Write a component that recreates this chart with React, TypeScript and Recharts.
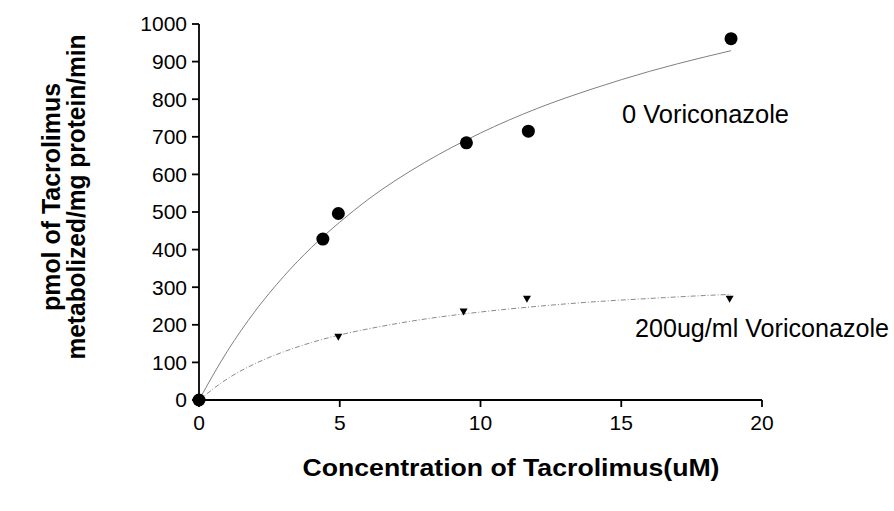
import React from 'react';
import {
  ComposedChart,
  Line,
  Scatter,
  XAxis,
  YAxis
} from 'recharts';

const concNoVori = [0, 4.4, 4.95, 9.5, 11.7, 18.9];
const rateNoVori = [0, 428, 496, 684, 715, 961];

const concVori200 = [0, 0, 4.95, 9.4, 11.65, 18.85];
const rateVori200 = [0, 0, 167, 234, 268, 268];

// fitted curves, sampled off the figure
const fitConc = [0, 1, 2, 3, 4, 5, 6, 8, 10, 12, 14, 16, 18, 18.9];
const fitNoVori = [0, 129, 237, 328, 406, 473, 533, 631, 710, 775, 828, 874, 913, 929];
const fitVori200 = [0, 56, 97, 128, 153, 173, 189, 215, 234, 249, 261, 270, 278, 281];

const xTicks = [0, 5, 10, 15, 20];
const yTicks = [0, 100, 200, 300, 400, 500, 600, 700, 800, 900, 1000];

const zip = (xs: number[], ys: number[]) => xs.map((x, i) => ({ x, y: ys[i] }));

const FONT = '"Liberation Sans", Arial, Helvetica, sans-serif';

const Dot = (props: any) => {
  const { cx, cy } = props;
  return <circle cx={cx} cy={cy} r={6.5} fill="#000" />;
};

const TriDown = (props: any) => {
  const { cx, cy } = props;
  return <path d={`M${cx - 4},${cy - 3.5} L${cx + 4},${cy - 3.5} L${cx},${cy + 3.5} Z`} fill="#000" />;
};

export default function App() {
  const tickStyle = { fontFamily: FONT, fontSize: 21, fill: '#000' };
  return (
    <div style={{ position: 'absolute', left: 0, top: 0, width: 894, height: 511, background: '#fff' }}>
      <ComposedChart
        width={894}
        height={511}
        margin={{ top: 24, right: 132, bottom: 71, left: 99 }}
      >
        <XAxis
          dataKey="x"
          type="number"
          domain={[0, 20]}
          ticks={xTicks}
          tick={tickStyle}
          tickSize={7}
          tickMargin={8}
          height={40}
          stroke="#000"
          strokeWidth={1.8}
        />
        <YAxis
          dataKey="y"
          type="number"
          domain={[0, 1000]}
          ticks={yTicks}
          tick={tickStyle}
          tickSize={7}
          tickMargin={5}
          width={100}
          stroke="#000"
          strokeWidth={1.8}
          interval={0}
        />
        <Line
          data={zip(fitConc, fitNoVori)}
          dataKey="y"
          type="monotone"
          stroke="#808080"
          strokeWidth={1}
          dot={false}
          activeDot={false}
          isAnimationActive={false}
        />
        <Line
          data={zip(fitConc, fitVori200)}
          dataKey="y"
          type="monotone"
          stroke="#8a8a8a"
          strokeWidth={1}
          strokeDasharray="5 2 1 2"
          dot={false}
          activeDot={false}
          isAnimationActive={false}
        />
        <Scatter
          data={zip(concVori200, rateVori200)}
          dataKey="y"
          shape={<TriDown />}
          isAnimationActive={false}
        />
        <Scatter
          data={zip(concNoVori, rateNoVori)}
          dataKey="y"
          shape={<Dot />}
          isAnimationActive={false}
        />
      </ComposedChart>
      <svg
        width={894}
        height={511}
        style={{ position: 'absolute', left: 0, top: 0, pointerEvents: 'none' }}
      >
        <g fontFamily={FONT} fill="#000">
          <text x={622} y={123} fontSize={25} textLength={167} lengthAdjust="spacingAndGlyphs">
            0 Voriconazole
          </text>
          <text x={635} y={337} fontSize={25} textLength={254} lengthAdjust="spacingAndGlyphs">
            200ug/ml Voriconazole
          </text>
          <text
            x={511}
            y={476}
            fontSize={24}
            fontWeight="bold"
            textAnchor="middle"
            textLength={417}
            lengthAdjust="spacingAndGlyphs"
          >
            Concentration of Tacrolimus(uM)
          </text>
          <text
            transform="translate(60,197) rotate(-90)"
            fontSize={26}
            fontWeight="bold"
            textAnchor="middle"
            textLength={228}
            lengthAdjust="spacingAndGlyphs"
          >
            pmol of Tacrolimus
          </text>
          <text
            transform="translate(85,197) rotate(-90)"
            fontSize={26}
            fontWeight="bold"
            textAnchor="middle"
            textLength={325}
            lengthAdjust="spacingAndGlyphs"
          >
            metabolized/mg protein/min
          </text>
        </g>
      </svg>
    </div>
  );
}
